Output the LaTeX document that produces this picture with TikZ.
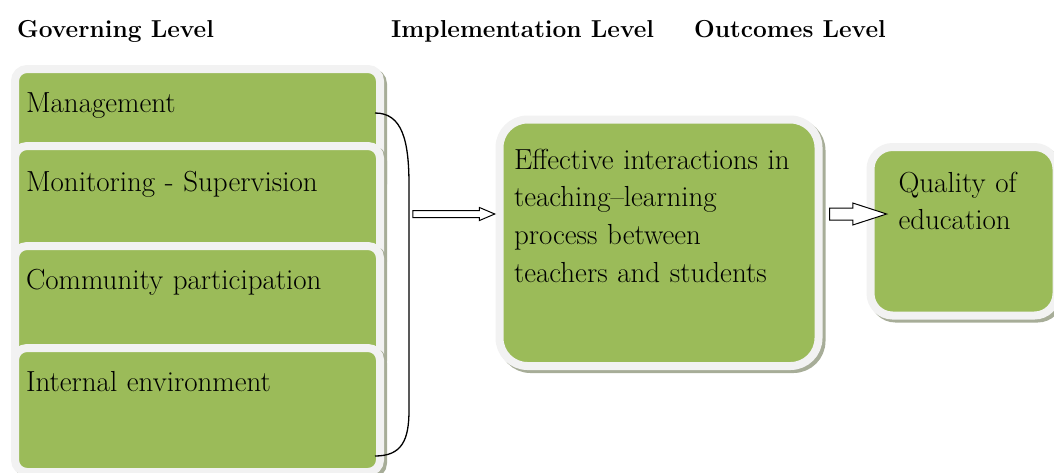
\documentclass[tikz,border=0pt]{standalone}
\usetikzlibrary{calc,shapes.arrows,shadows}

\definecolor{boxgreen}{HTML}{9BBB59}
\definecolor{boxrim}{HTML}{F2F2F2}
\definecolor{boxshade}{HTML}{A7AD98}

\tikzset{
  level/.style={font=\fontsize{24.5}{28}\selectfont\bfseries, inner sep=0pt, anchor=base west},
  govbox/.style={draw=boxrim, line width=8pt, fill=boxgreen, rounded corners=12pt,
    general shadow={shadow xshift=3pt, shadow yshift=-3pt, fill=boxshade, draw=boxshade, line width=8pt},
    anchor=north west, align=left, font=\fontsize{29}{37.7}\selectfont,
    inner xsep=11pt, inner ysep=4pt, text width=343pt, text height=39pt, text depth=77pt},
  bigbox/.style={govbox, rounded corners=28pt},
  harrow/.style={single arrow, draw, fill=white, line width=1pt, inner sep=0pt, anchor=center}
}

\begin{document}
\begin{tikzpicture}[x=1pt, y=-1pt]
\useasboundingbox (0,0) rectangle (1054,472);

\node[level, name=h1] at (17,37) {Governing Level};
\node[level, name=h2] at (391,37) {Implementation Level};
\node[level, name=h3] at (694,37) {Outcomes Level};

\node[govbox, name=b1] at (11,65) {Management};
\node[govbox, name=b2, text height=41pt, text depth=75pt] at (11,142) {Monitoring - Supervision};
\node[govbox, name=b3] at (11,242) {Community participation};
\node[govbox, name=b4] at (11,344) {Internal environment};

\node[bigbox, name=eff, inner xsep=14.5pt, text width=290pt, text height=45.5pt, text depth=193pt]
  at (495.5,115.5) {Effective interactions in\\teaching--learning\\process between\\teachers and students};
\node[bigbox, name=qual, rounded corners=22pt, inner xsep=28pt, text width=130pt, text height=41pt, text depth=119.5pt]
  at (866.5,143) {Quality of\\education};

% brace round the governing boxes
\coordinate (bt) at (375,113);
\coordinate (bm) at (409,214);
\coordinate (bb) at (375,456);
\draw[line width=1.3pt] (bt) .. controls (402,113) and (409,140) .. (409,185) -- (409,410) .. controls (409,440) and (402,456) .. (bb);

\path (bm) -- (eff.west |- bm) node[pos=0.47, harrow, minimum height=82pt, minimum width=12pt,
  single arrow head extend=3pt, single arrow tip angle=46, inner ysep=3pt] (arr1) {};
\path (eff.east |- bm) -- (qual.west |- bm) node[pos=0.6, harrow, minimum height=57pt, minimum width=21pt,
  single arrow head extend=5pt, single arrow tip angle=36, inner ysep=5.5pt] (arr2) {};
\end{tikzpicture}
\end{document}
